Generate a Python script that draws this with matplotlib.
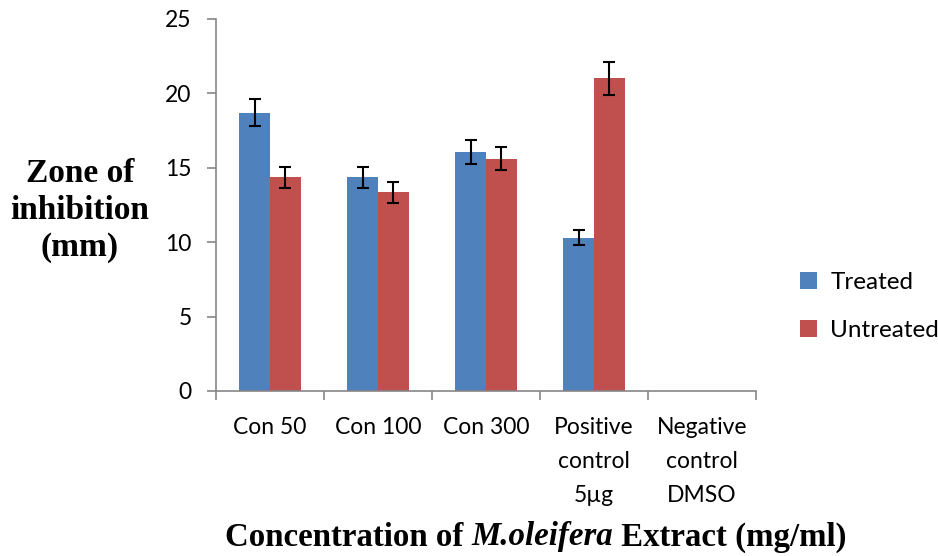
"""Zone of inhibition bar chart for M. oleifera extract."""

import matplotlib

matplotlib.use("Agg")
import matplotlib.pyplot as plt
import numpy as np

categories = ["Con 50", "Con 100", "Con 300", "Positive\ncontrol\n5µg", "Negative\ncontrol\nDMSO"]
treated = [18.7, 14.35, 16.05, 10.3, 0.0]
treated_err = [0.9, 0.7, 0.8, 0.5, 0.0]
untreated = [14.35, 13.35, 15.6, 21.0, 0.0]
untreated_err = [0.7, 0.7, 0.78, 1.1, 0.0]

BLUE = "#4F81BD"
RED = "#C0504D"
GREY = "#868686"
TICK_FONT = "Lato"
SERIF = "Liberation Serif"

fig = plt.figure(figsize=(9.38, 5.56), dpi=100)
ax = fig.add_axes([0.2303, 0.2968, 0.5757, 0.6692])

x = np.arange(len(categories))
width = 1 / 3.5

ax.bar(x - width / 2, treated, width, color=BLUE, label="Treated")
ax.bar(x + width / 2, untreated, width, color=RED, label="Untreated")

err_style = dict(fmt="none", ecolor="black", elinewidth=1.5, capsize=4.3, capthick=1.5)
for vals, errs, off in [(treated, treated_err, -width / 2), (untreated, untreated_err, width / 2)]:
    idx = [i for i, v in enumerate(vals) if v > 0]
    ax.errorbar(x[idx] + off, [vals[i] for i in idx], yerr=[errs[i] for i in idx], **err_style)

ax.set_xlim(-0.5, len(categories) - 0.5)
ax.set_ylim(0, 25)
ax.set_yticks([0, 5, 10, 15, 20, 25])

ax.set_xticks(x)
ax.set_xticklabels(categories, fontsize=16.5, family=TICK_FONT, linespacing=1.75, va="top")
ax.set_xticks(np.arange(len(categories) + 1) - 0.5, minor=True)
ax.tick_params(axis="x", which="major", length=0, pad=19)
ax.tick_params(axis="x", which="minor", length=6.5, color=GREY, width=1.2)
ax.tick_params(axis="y", length=6.5, color=GREY, width=1.2, pad=11, labelsize=16.5)
for lab in ax.get_yticklabels():
    lab.set_family(TICK_FONT)

for side in ["top", "right"]:
    ax.spines[side].set_visible(False)
for side in ["left", "bottom"]:
    ax.spines[side].set_color(GREY)
    ax.spines[side].set_linewidth(1.2)

fig.text(0.085, 0.622, "Zone of\ninhibition\n(mm)", ha="center", va="center",
         family=SERIF, fontweight="bold", fontsize=24, linespacing=1.25)

# x label in three pieces so the species name can be italic
xl_y = 1 - 537 / 556
xl_kw = dict(va="center", ha="left", family=SERIF, fontweight="bold", fontsize=23.7)
pos = 225 / 938
for piece, style in [("Concentration of ", "normal"), ("M.oleifera", "italic"),
                     (" Extract (mg/ml)", "normal")]:
    t = fig.text(pos, xl_y, piece, style=style, **xl_kw)
    fig.canvas.draw()
    pos = t.get_window_extent().x1 / fig.bbox.width

ax.legend(loc="center left", bbox_to_anchor=(0.853, 0.449), bbox_transform=fig.transFigure,
          frameon=False, prop={"family": TICK_FONT, "size": 17.5}, handlelength=0.7,
          handleheight=0.7, handletextpad=0.55, labelspacing=1.1, borderaxespad=0,
          borderpad=0)

fig.savefig("out.png", dpi=100)
